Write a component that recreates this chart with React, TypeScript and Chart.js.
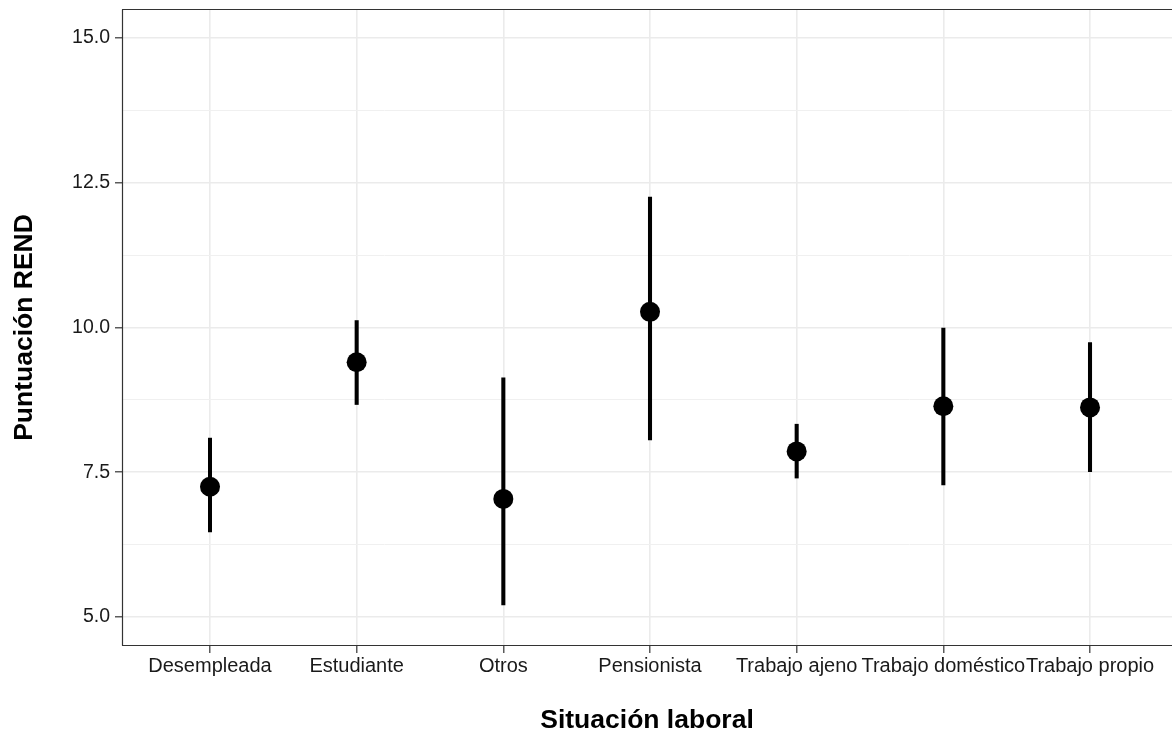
import React, { useEffect, useRef } from "react";
import { Chart, registerables } from "chart.js";

Chart.register(...registerables);

const categories = [
  "Desempleada",
  "Estudiante",
  "Otros",
  "Pensionista",
  "Trabajo ajeno",
  "Trabajo doméstico",
  "Trabajo propio",
];
const means = [7.25, 9.4, 7.04, 10.27, 7.86, 8.64, 8.62];
const lowers = [6.47, 8.67, 5.21, 8.06, 7.4, 7.28, 7.51];
const uppers = [8.09, 10.12, 9.13, 12.25, 8.33, 9.99, 9.74];
const yMajorTicks = [5, 7.5, 10, 12.5, 15];
const yMinorTicks = [6.25, 8.75, 11.25, 13.75];

const FONT = "'Liberation Sans', Arial, Helvetica, sans-serif";
const W = 1172;
const H = 735;

const panelBorder = {
  id: "panelBorder",
  afterDatasetsDraw(chart: any) {
    const { ctx, chartArea } = chart;
    ctx.save();
    ctx.strokeStyle = "#333333";
    ctx.lineWidth = 1.2;
    ctx.beginPath();
    ctx.moveTo(chartArea.left + 0.5, chartArea.top + 0.5);
    ctx.lineTo(chartArea.left + 0.5, chartArea.bottom - 0.5);
    ctx.moveTo(chartArea.left, chartArea.top + 0.5);
    ctx.lineTo(chartArea.right + 10, chartArea.top + 0.5);
    ctx.moveTo(chartArea.left, chartArea.bottom - 0.5);
    ctx.lineTo(chartArea.right + 10, chartArea.bottom - 0.5);
    ctx.stroke();
    ctx.restore();
  },
};

export default function App() {
  const ref = useRef<HTMLCanvasElement | null>(null);

  useEffect(() => {
    if (!ref.current) return;
    const isMajor = (v: number) => yMajorTicks.some((m) => Math.abs(m - v) < 1e-6);
    const chart = new Chart(ref.current, {
      type: "scatter",
      data: {
        datasets: [
          {
            type: "scatter",
            label: "media",
            data: categories.map((_, i) => ({ x: i, y: means[i] })),
            backgroundColor: "#000000",
            borderWidth: 0,
            pointRadius: 10,
            pointHoverRadius: 10,
            order: 0,
          } as any,
          {
            type: "bar",
            label: "intervalo",
            data: categories.map((_, i) => ({ x: i, y: [lowers[i], uppers[i]] })),
            backgroundColor: "#000000",
            borderWidth: 0,
            barThickness: 3.4,
            order: 1,
          } as any,
        ],
      },
      options: {
        responsive: false,
        animation: false,
        devicePixelRatio: 1,
        layout: { autoPadding: false, padding: { top: 9, left: 0, right: 0, bottom: 0 } },
        plugins: {
          legend: { display: false },
          tooltip: { enabled: false },
          title: { display: false },
        },
        scales: {
          x: {
            type: "linear",
            min: -0.6,
            max: 6.559,
            offset: false,
            afterBuildTicks: (scale: any) => {
              scale.ticks = categories.map((_, i) => ({ value: i }));
            },
            afterFit: (scale: any) => {
              scale.height = 89;
              scale.paddingLeft = 0;
              scale.paddingRight = 0;
              scale.paddingTop = 0;
              scale.paddingBottom = 0;
            },
            border: { display: false },
            grid: {
              offset: false,
              color: "#ebebeb",
              lineWidth: 1.6,
              drawTicks: true,
              tickLength: 7,
              tickColor: "#333333",
              tickWidth: 1.2,
            },
            ticks: {
              autoSkip: false,
              maxRotation: 0,
              minRotation: 0,
              padding: 1,
              color: "#1a1a1a",
              font: { family: FONT, size: 20 },
              callback: (v: any) => categories[Math.round(Number(v))] ?? "",
            },
            title: {
              display: true,
              text: "Situación laboral",
              color: "#000000",
              font: { family: FONT, size: 26.5, weight: "bold", lineHeight: 1 },
              padding: { top: 0, bottom: 1 },
            },
          },
          y: {
            type: "linear",
            min: 4.5,
            max: 15.5,
            afterBuildTicks: (scale: any) => {
              scale.ticks = [...yMajorTicks, ...yMinorTicks]
                .sort((a, b) => a - b)
                .map((v) => ({ value: v }));
            },
            afterFit: (scale: any) => {
              scale.width = 122;
              scale.paddingLeft = 0;
              scale.paddingRight = 0;
              scale.paddingTop = 0;
              scale.paddingBottom = 0;
            },
            border: { display: false },
            grid: {
              color: (c: any) => (isMajor(c.tick?.value) ? "#ebebeb" : "#f0f0f0"),
              lineWidth: (c: any) => (isMajor(c.tick?.value) ? 1.6 : 1.0),
              drawTicks: true,
              tickLength: 7,
              tickColor: (c: any) => (isMajor(c.tick?.value) ? "#333333" : "rgba(0,0,0,0)"),
              tickWidth: 1.2,
            },
            ticks: {
              autoSkip: false,
              padding: 5,
              color: "#1a1a1a",
              font: { family: FONT, size: 19.5 },
              callback: (v: any) => (isMajor(Number(v)) ? Number(v).toFixed(1) : ""),
            },
            title: {
              display: true,
              text: "Puntuación REND",
              color: "#000000",
              font: { family: FONT, size: 26.5, weight: "bold", lineHeight: 1 },
              padding: { top: 11, bottom: 0 },
            },
          },
        },
      },
      plugins: [panelBorder],
    } as any);
    return () => chart.destroy();
  }, []);

  return (
    <div style={{ position: "absolute", left: 0, top: 0, width: W, height: H, background: "#ffffff", overflow: "hidden" }}>
      <canvas ref={ref} width={W} height={H} style={{ width: W, height: H, display: "block" }} />
    </div>
  );
}
